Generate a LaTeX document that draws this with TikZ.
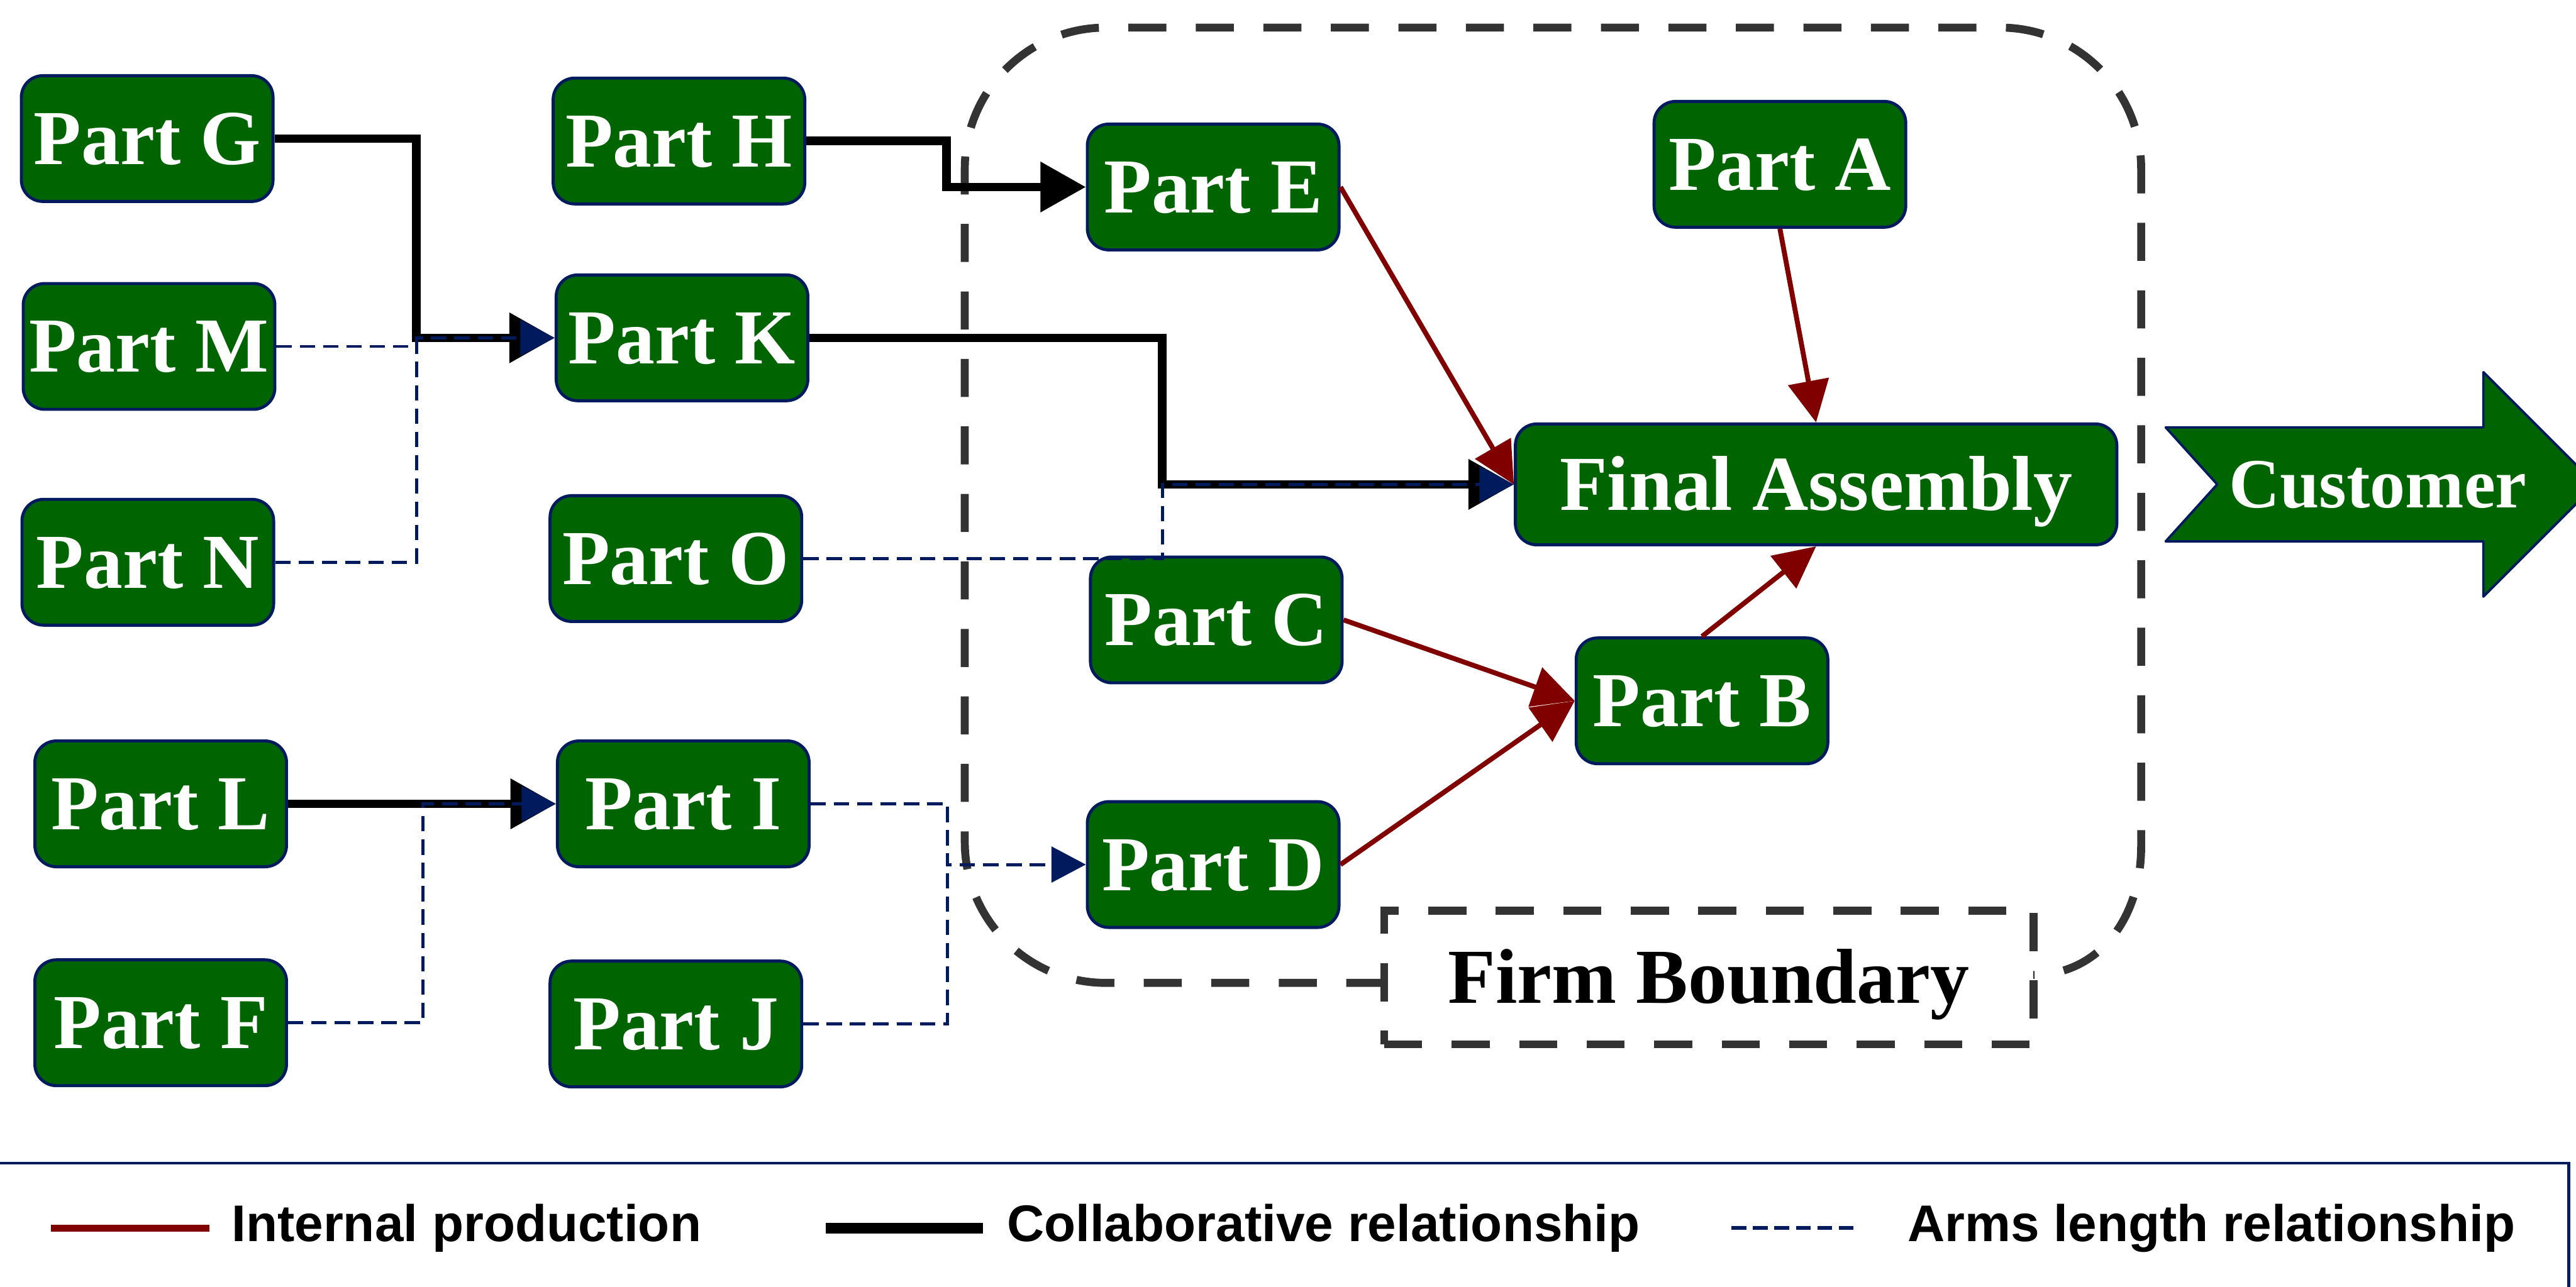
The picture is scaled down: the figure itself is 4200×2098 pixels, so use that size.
\documentclass[tikz,border=0pt]{standalone}
\usepackage{fontspec}
\setmainfont{Liberation Serif}
\newfontfamily\legfamily{Liberation Sans}
\usetikzlibrary{arrows.meta}
\definecolor{pgreen}{RGB}{0,100,0}
\definecolor{navyb}{RGB}{0,26,94}
\definecolor{maroonc}{RGB}{128,0,0}
\definecolor{bgray}{RGB}{51,51,51}
\begin{document}
\begin{tikzpicture}[x=0.01cm,y=-0.01cm,
 part/.style={draw=navyb,line width=0.05cm,fill=pgreen,rounded corners=0.35cm,minimum width=4.1cm,minimum height=2.05cm,inner sep=0pt,text=white,font=\fontsize{36.1}{40}\selectfont\bfseries,text height=0.84cm,text depth=0pt},
 collab/.style={line width=0.14cm,black,-{Triangle[length=0.74cm,width=0.79cm]}},
 arms/.style={line width=0.05cm,navyb,dash pattern=on 0.25cm off 0.13cm,-{Triangle[length=0.56cm,width=0.58cm]}},
 internal/.style={line width=0.08cm,maroonc,-{Triangle[length=0.68cm,width=0.66cm]}},
 bound/.style={line width=0.13cm,bgray,dash pattern=on 0.62cm off 0.48cm},
 legtext/.style={font=\legfamily\fontsize{23.9}{28}\selectfont\bfseries,inner sep=0pt,anchor=base west}
]
\useasboundingbox (0,0) rectangle (4200,2098);

% firm boundary
\draw[bound] (2257,1603) -- (1803,1603) .. controls (1676,1603) and (1573,1500) .. (1573,1373) -- (1573,275) .. controls (1573,148) and (1676,45) .. (1803,45) -- (3261,45) .. controls (3388,45) and (3491,148) .. (3491,275) -- (3491,1380) .. controls (3491,1500) and (3420,1590) .. (3315,1590);
\node[draw=bgray,line width=0.13cm,dash pattern=on 0.62cm off 0.48cm,minimum width=10.58cm,minimum height=2.18cm,inner sep=0pt,font=\fontsize{36.1}{40}\selectfont\bfseries,text height=0.84cm,text depth=0pt] (fb) at (2786,1594) {Firm Boundary};

% parts
\node[part] (G) at (240,226) {Part G};
\node[part] (M) at (243,565) {Part M};
\node[part] (N) at (241,917) {Part N};
\node[part] (H) at (1107,230) {Part H};
\node[part] (K) at (1112,551) {Part K};
\node[part] (O) at (1102,911) {Part O};
\node[part] (L) at (262,1311) {Part L};
\node[part] (F) at (262,1668) {Part F};
\node[part] (I) at (1114,1311) {Part I};
\node[part] (J) at (1102,1670) {Part J};
\node[part] (E) at (1978,305) {Part E};
\node[part] (A) at (2902,268) {Part A};
\node[part,minimum width=9.8cm,minimum height=1.97cm] (FA) at (2961,790) {Final Assembly};
\node[part] (C) at (1983,1011) {Part C};
\node[part] (B) at (2775,1143) {Part B};
\node[part] (D) at (1978,1410) {Part D};

% customer arrow
\draw[draw=navyb,line width=0.04cm,fill=pgreen,line join=round] (3531,697) -- (4049,697) -- (4049,607) -- (4232,790) -- (4049,973) -- (4049,883) -- (3531,883) -- (3615,790) -- cycle;
\node[inner sep=0pt,text=white,font=\fontsize{32.7}{36}\selectfont\bfseries,text height=0.76cm,text depth=0pt] (cust) at (3877,790) {Customer};

% junctions
\coordinate (jK) at (679,551);
\coordinate (jE) at (1543,305);
\coordinate (jF) at (1895,790);
\coordinate (jI) at (690,1311);
\coordinate (jD) at (1545,1410);

% collaborative
\draw[collab] (G.east) -| (jK) -- (K.west);
\draw[collab] (H.east) -| (jE) -- (E.west);
\draw[collab] (K.east) -| (jF) -- (FA.west);
\draw[collab] (L.east) -- (I.west);

% arms length
\draw[arms] (M.east) -| (jK) -- (K.west);
\draw[arms,-] (N.east) -| (jK);
\draw[arms] (O.east) -| (jF) -- (FA.west);
\draw[arms] (F.east) -| (jI) -- (I.west);
\draw[arms] (I.east) -| (jD) -- (D.west);
\draw[arms,-] (J.east) -| (jD);

% internal
\draw[internal] (E.east) -- (FA.west);
\draw[internal] (A.south) -- (FA.north);
\draw[internal] (C.east) -- (B.west);
\draw[internal] (D.east) -- (B.west);
\draw[internal] (B.north) -- (FA.south);

% legend
\draw[navyb,line width=0.05cm] (-20,1897) rectangle (4188,2400);
\coordinate (r1) at (83,2003);
\coordinate (r2) at (341,2003);
\coordinate (c1) at (1346,2003);
\coordinate (c2) at (1603,2003);
\coordinate (a1) at (2823,2003);
\coordinate (a2) at (3029,2003);
\draw[maroonc,line width=0.11cm] (r1) -- (r2);
\draw[black,line width=0.17cm] (c1) -- (c2);
\draw[navyb,line width=0.06cm,dash pattern=on 0.24cm off 0.11cm] (a1) -- (a2);
\node[legtext] (lt1) at (377,2025) {Internal production};
\node[legtext] (lt2) at (1641,2025) {Collaborative relationship};
\node[legtext] (lt3) at (3110,2025) {Arms length relationship};
\end{tikzpicture}
\end{document}
